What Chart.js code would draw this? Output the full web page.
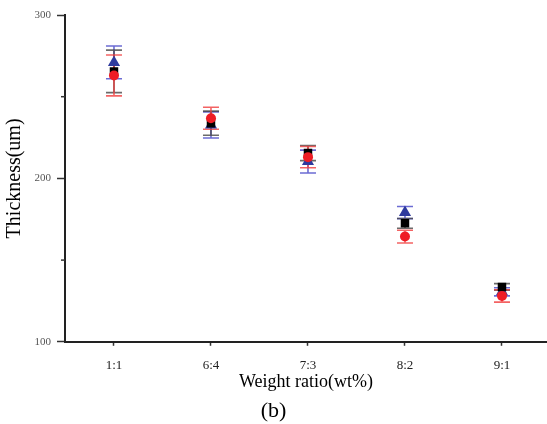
<!DOCTYPE html>
<html>
<head>
<meta charset="utf-8">
<script src="https://cdn.jsdelivr.net/npm/chart.js@4"></script>
<style>
  body { margin: 0; background: #fff; }
  #box { width: 547px; height: 424px; }
</style>
</head>
<body>
<div id="box"><canvas id="thick"></canvas></div>
<script>
var ratios = ['1:1', '6:4', '7:3', '8:2', '9:1'];

// black squares
var blackVals = [265.5, 233.8, 215.5, 172.5, 133.6];
var blackErr  = [13, 7.4, 4.6, 3, 2];
// red circles
var redVals = [263, 236.8, 213, 164.4, 128.1];
var redErr  = [12.5, 6.7, 6.5, 3.9, 3.8];
// blue triangles
var blueVals = [271, 232.7, 210.3, 179.1, 130.6];
var blueErr  = [10, 8, 7, 3.7, 2.5];

var serif = 'Liberation Serif';

function pts(vals){
  return vals.map(function(v, i){ return {x: i, y: v}; });
}

// error bars + small minor ticks on y
var errorBars = {
  id: 'errorBars',
  beforeDatasetsDraw: function(chart){
    var ctx = chart.ctx;
    var xs = chart.scales.x, ys = chart.scales.y;
    ctx.save();
    for (var d = chart.data.datasets.length - 1; d >= 0; d--) {
      var ds = chart.data.datasets[d];
      ctx.strokeStyle = ds.errColor;
      ctx.lineWidth = 1.6;
      ds.data.forEach(function(p, i){
        var x = xs.getPixelForValue(p.x);
        var top = ys.getPixelForValue(p.y + ds.err[i]);
        var bot = ys.getPixelForValue(p.y - ds.err[i]);
        ctx.beginPath();
        ctx.moveTo(x, top); ctx.lineTo(x, bot);
        ctx.moveTo(x - 8, top); ctx.lineTo(x + 8, top);
        ctx.moveTo(x - 8, bot); ctx.lineTo(x + 8, bot);
        ctx.stroke();
      });
    }
    // minor ticks
    ctx.strokeStyle = '#333';
    ctx.lineWidth = 1.5;
    [150, 250].forEach(function(v){
      var y = ys.getPixelForValue(v);
      ctx.beginPath();
      ctx.moveTo(ys.right - 4, y); ctx.lineTo(ys.right, y);
      ctx.stroke();
    });
    ctx.restore();
  }
};

var opt = {
  type: 'scatter',
  data: {
    datasets: [
      {
        label: 'red',
        data: pts(redVals),
        err: redErr,
        errColor: 'rgba(240, 60, 60, 0.8)',
        pointStyle: 'circle',
        pointRadius: 5,
        backgroundColor: '#ee1c25',
        borderColor: '#ee1c25',
        borderWidth: 0
      },
      {
        label: 'black',
        data: pts(blackVals),
        err: blackErr,
        errColor: 'rgba(70, 70, 70, 0.8)',
        pointStyle: 'rect',
        pointRadius: 6,
        backgroundColor: '#000',
        borderColor: '#000',
        borderWidth: 0
      },
      {
        label: 'blue',
        data: pts(blueVals),
        err: blueErr,
        errColor: 'rgba(70, 70, 200, 0.8)',
        pointStyle: 'triangle',
        pointRadius: 7,
        backgroundColor: '#2e3a9e',
        borderColor: '#2e3a9e',
        borderWidth: 0
      }
    ]
  },
  options: {
    responsive: true,
    maintainAspectRatio: false,
    animation: false,
    events: [],
    layout: { autoPadding: false, padding: { top: 15, left: 0, right: 0, bottom: 0 } },
    plugins: {
      legend: { display: false },
      tooltip: { enabled: false },
      title: {
        display: true,
        text: '(b)',
        position: 'bottom',
        color: '#000',
        font: { family: serif, size: 22, weight: 'normal', lineHeight: 1.1 },
        padding: { top: 0, bottom: 1 }
      }
    },
    scales: {
      x: {
        type: 'linear',
        min: -0.505,
        max: 4.464,
        afterBuildTicks: function(s){
          s.ticks = ratios.map(function(r, i){ return {value: i}; });
        },
        afterFit: function(s){
          s.height = 57;
          s.paddingLeft = 0;
          s.paddingRight = 0;
        },
        ticks: {
          color: '#222',
          font: { family: serif, size: 13 },
          padding: 12,
          autoSkip: false,
          maxRotation: 0,
          callback: function(v){ return ratios[v]; }
        },
        grid: { drawOnChartArea: false, tickLength: 4, tickColor: '#333', tickWidth: 1.5 },
        border: { color: '#222', width: 2 },
        title: {
          display: true,
          text: 'Weight ratio(wt%)',
          color: '#000',
          font: { family: serif, size: 18, lineHeight: 1.2 },
          padding: { top: 0, bottom: 6 }
        }
      },
      y: {
        min: 100,
        max: 300,
        afterFit: function(s){ s.width = 65; },
        ticks: {
          stepSize: 100,
          color: '#555',
          font: { family: serif, size: 11 },
          padding: 6
        },
        grid: { drawOnChartArea: false, tickLength: 8, tickColor: '#333', tickWidth: 1.5 },
        border: { color: '#222', width: 2 },
        title: {
          display: true,
          text: 'Thickness(um)',
          color: '#000',
          font: { family: serif, size: 20, lineHeight: 1.2 },
          padding: { top: 3, bottom: 0 }
        }
      }
    }
  },
  plugins: [errorBars]
};

var Thick = new Chart(document.getElementById('thick'), opt);
</script>
</body>
</html>
